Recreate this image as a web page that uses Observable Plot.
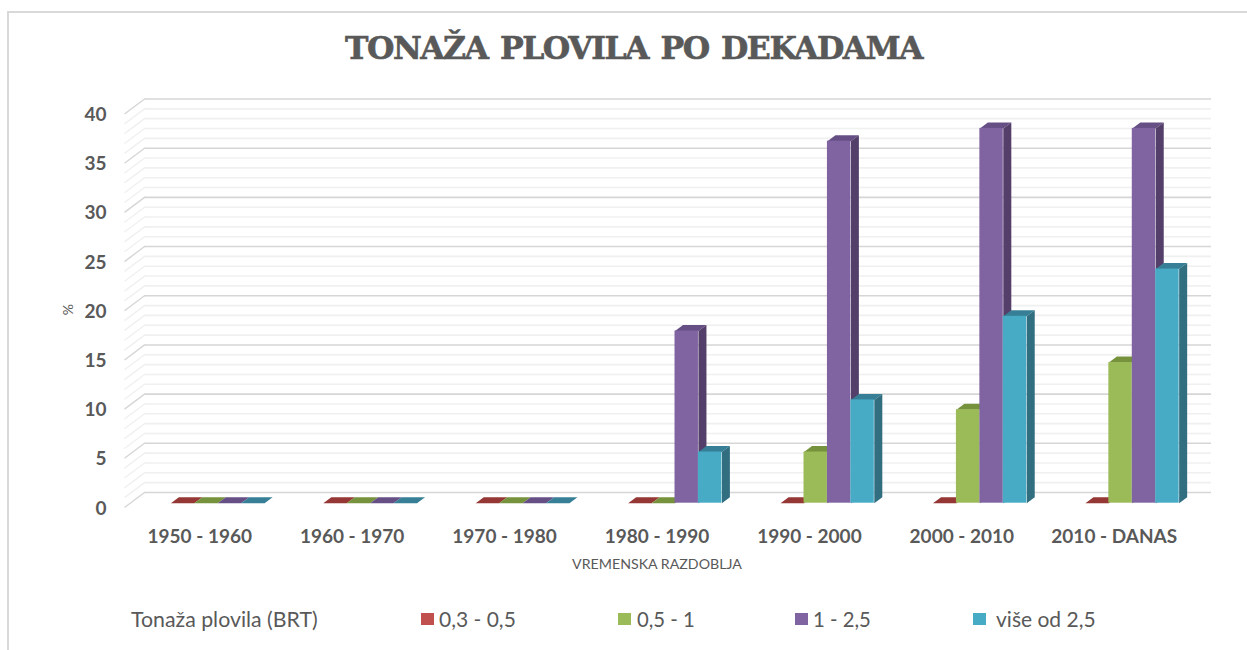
<!DOCTYPE html>
<html>
<head>
<meta charset="utf-8">
<script src="https://cdn.jsdelivr.net/npm/d3@7"></script>
<script src="https://cdn.jsdelivr.net/npm/@observablehq/plot@0.6"></script>
<style>
  html, body { margin: 0; padding: 0; background: #fff; }
  #page { position: relative; width: 1247px; height: 650px; overflow: hidden; font-family: Lato, sans-serif; }
  #frame { position: absolute; left: 7px; top: 11px; right: -4px; bottom: -4px; border: 2px solid #d9d9d9; }
  #title { position: relative; height: 90px; box-sizing: border-box; padding-top: 28px; padding-left: 20px; text-align: center;
           font: bold 31.5px/40px "DejaVu Serif", serif; letter-spacing: -1.5px; word-spacing: 3px; color: #595959;
           -webkit-text-stroke: 0.6px #595959; }
  #chart { position: relative; height: 500px; }
  #chart svg { display: block; background: transparent; }
  #legend { position: relative; height: 60px; color: #595959; font-size: 21px; }
  #legend span { position: absolute; top: 16px; line-height: 26px; white-space: nowrap; }
  #legend i { position: absolute; top: 23px; width: 13px; height: 12px; }
</style>
</head>
<body>
<div id="page">
  <div id="frame"></div>
  <div id="title">TONAŽA PLOVILA PO DEKADAMA</div>
  <div id="chart"></div>
  <div id="legend"></div>
</div>
<script>
const categories = ["1950 - 1960", "1960 - 1970", "1970 - 1980", "1980 - 1990", "1990 - 2000", "2000 - 2010", "2010 - DANAS"];
const seriesNames = ["0,3 - 0,5", "0,5 - 1", "1 - 2,5", "više od 2,5"];
const red    = [0, 0, 0, 0, 0, 0, 0];
const green  = [0, 0, 0, 0, 5.2, 9.5, 14.3];
const purple = [0, 0, 0, 17.5, 36.8, 38.1, 38.1];
const teal   = [0, 0, 0, 5.2, 10.5, 19.0, 23.8];
const seriesValues = [red, green, purple, teal];
const frontColors = ["#c0504d", "#9bbb59", "#8064a2", "#47abc6"];
const topColors   = ["#953735", "#76923c", "#664f85", "#377f96"];
const sideColors  = ["#7d2e2c", "#637a32", "#533f69", "#316e80"];
const yTicks = [0, 5, 10, 15, 20, 25, 30, 35, 40];
const legendTitle = "Tonaža plovila (BRT)";
const xTitle = "VREMENSKA RAZDOBLJA";
const yTitle = "%";

// Oblique 3-D geometry, in data units of the two scales
const pxX = 152.2, pxY = 9.83;
const wallX = 20 / pxX, wallY = 15 / pxY;   // depth of the floor
const barDX = 8 / pxX, barDY = 6 / pxY;     // depth of a bar
const barW = 23.4 / pxX;
const groupShift = 17 / pxX, floorLift = 4.3 / pxY;

function barsOf(s) {
  return seriesValues[s].map((v, i) => {
    const x1 = i + groupShift + (s - 2) * barW;
    return {id: i, x1, x2: x1 + barW, y1: floorLift, y2: floorLift + v};
  });
}
const topFace = b => [
  {id: b.id, x: b.x1, y: b.y2},
  {id: b.id, x: b.x2, y: b.y2},
  {id: b.id, x: b.x2 + barDX, y: b.y2 + barDY},
  {id: b.id, x: b.x1 + barDX, y: b.y2 + barDY}
];
const sideFace = b => [
  {id: b.id, x: b.x2, y: b.y1},
  {id: b.id, x: b.x2, y: b.y2},
  {id: b.id, x: b.x2 + barDX, y: b.y2 + barDY},
  {id: b.id, x: b.x2 + barDX, y: b.y1 + barDY}
];

const minor = d3.range(0, 41).filter(v => v % 5 !== 0);
const gridMarks = (vals, stroke) => [
  Plot.ruleY(vals, {y: v => v + wallY, x1: -0.5 + wallX, x2: 6.5 + wallX, stroke, strokeWidth: 1.6}),
  Plot.link(vals, {x1: -0.5, y1: v => v, x2: -0.5 + wallX, y2: v => v + wallY, stroke, strokeWidth: 1.4})
];

const barMarks = seriesValues.flatMap((_, s) => {
  const bars = barsOf(s);
  return [
    Plot.line(bars.flatMap(topFace), {x: "x", y: "y", z: "id", fill: topColors[s], stroke: "none"}),
    Plot.line(bars.flatMap(sideFace), {x: "x", y: "y", z: "id", fill: sideColors[s], stroke: "none"}),
    Plot.rect(bars, {x1: "x1", x2: "x2", y1: "y1", y2: "y2", fill: frontColors[s]})
  ];
});

const chart = Plot.plot({
  width: 1247,
  height: 500,
  marginTop: 8.5,
  marginBottom: 83,
  marginLeft: 124,
  marginRight: 36,
  style: {fontFamily: "Lato, sans-serif", background: "transparent", overflow: "visible"},
  x: {type: "linear", domain: [-0.5, 6.5 + wallX]},
  y: {type: "linear", domain: [0, 40 + wallY]},
  marks: [
    ...gridMarks(minor, "#f0f0f0"),
    ...gridMarks(yTicks, "#d6d6d6"),
    ...barMarks,
    Plot.axisX({ticks: d3.range(categories.length), tickFormat: i => categories[i], tickSize: 0, tickPadding: 22, dx: -1,
      fontSize: 19, fontWeight: "bold", fill: "#595959", label: null}),
    Plot.axisY({ticks: yTicks, tickFormat: d => String(d), tickSize: 0, tickPadding: 18, dy: 1,
      fontSize: 19, fontWeight: "bold", fill: "#595959", label: null}),
    Plot.text([xTitle], {frameAnchor: "bottom", dx: -11, dy: 61, fontSize: 14.2, fill: "#595959"}),
    Plot.text([yTitle], {frameAnchor: "left", dx: -56, dy: 12, rotate: -90, fontSize: 14, fill: "#595959"})
  ]
});
document.getElementById("chart").appendChild(chart);

// Legend
const legend = document.getElementById("legend");
const addText = (t, left, size) => {
  const el = document.createElement("span");
  el.textContent = t; el.style.left = left + "px";
  if (size) el.style.fontSize = size + "px";
  legend.appendChild(el);
};
addText(legendTitle, 131, 21.3);
const swatchLeft = [421, 618, 795, 973];
const textLeft = [439, 637, 813, 996];
seriesNames.forEach((name, s) => {
  const sw = document.createElement("i");
  sw.style.left = swatchLeft[s] + "px"; sw.style.background = frontColors[s];
  legend.appendChild(sw);
  addText(name, textLeft[s], s === 1 || s === 2 ? 20.3 : 21);
});
</script>
</body>
</html>
